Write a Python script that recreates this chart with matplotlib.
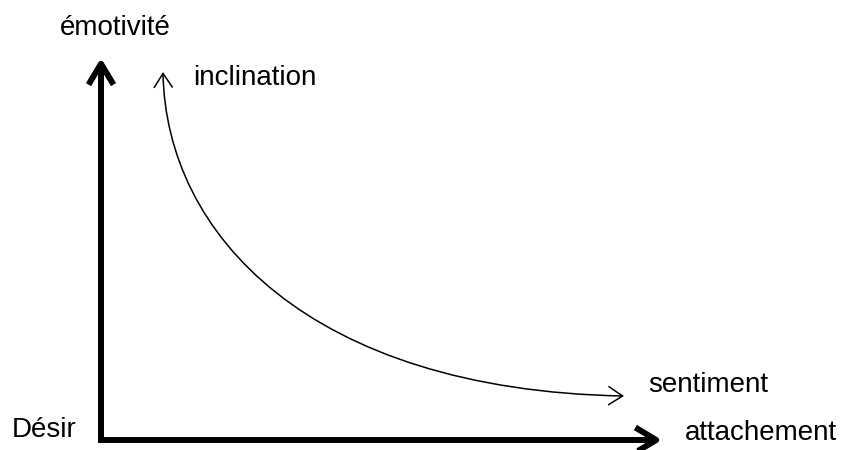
#!/usr/bin/env python3
"""
Diagramme : désir -> attachement / émotivité, courbe inclination -> sentiment
"""

import matplotlib
matplotlib.use("Agg")
import matplotlib.pyplot as plt
from matplotlib.patches import FancyArrowPatch
from matplotlib.path import Path

# ── DATA (pixel space of the 848x450 canvas) ─────────────
ORIGIN   = (101, 440)     # corner of the two axes
X_TIP    = (662, 440)     # end of the horizontal axis arrow
Y_TIP    = (101, 58)      # end of the vertical axis arrow

# cubic bezier: inclination (top) -> sentiment (bottom right)
CURVE_X  = [163, 166, 310, 624]
CURVE_Y  = [72, 235, 390, 396]

LABELS   = ["émotivité", "inclination", "sentiment", "Désir", "attachement"]
LABEL_X  = [60, 193, 648, 12, 685]
LABEL_Y  = [35, 85, 392, 437, 440]

# ── STYLE ────────────────────────────────────────────────
FONT      = ["Liberation Sans", "DejaVu Sans"]
FONT_SIZE = 20
AXIS_LW   = 4.3
CURVE_LW  = 1.1


def main():
    fig = plt.figure(figsize=(8.48, 4.5), dpi=100, facecolor="white")
    ax = fig.add_axes([0, 0, 1, 1])
    ax.set_xlim(0, 848)
    ax.set_ylim(450, 0)
    ax.axis("off")

    half = AXIS_LW * 100 / 72 / 2   # half stroke in px, to square the corner

    # ── AXES ─────────────────────────────────────────────
    for start, tip in [((ORIGIN[0] - half, ORIGIN[1]), X_TIP),
                       ((ORIGIN[0], ORIGIN[1] + half), Y_TIP)]:
        ax.add_patch(FancyArrowPatch(
            start, tip,
            arrowstyle="->,head_length=15,head_width=9",
            lw=AXIS_LW, color="black", shrinkA=0, shrinkB=0,
            capstyle="butt", joinstyle="round", mutation_scale=1))

    # ── CURVE ────────────────────────────────────────────
    verts = list(zip(CURVE_X, CURVE_Y))
    path = Path(verts, [Path.MOVETO, Path.CURVE4, Path.CURVE4, Path.CURVE4])
    ax.add_patch(FancyArrowPatch(
        path=path, arrowstyle="<->,head_length=10,head_width=6.5",
        lw=CURVE_LW, color="black", mutation_scale=1))

    # ── LABELS ───────────────────────────────────────────
    for txt, x, y in zip(LABELS, LABEL_X, LABEL_Y):
        ax.text(x, y, txt, ha="left", va="baseline",
                fontsize=FONT_SIZE, family=FONT, color="black")

    fig.savefig("out.png", dpi=100, facecolor="white")


if __name__ == "__main__":
    main()
